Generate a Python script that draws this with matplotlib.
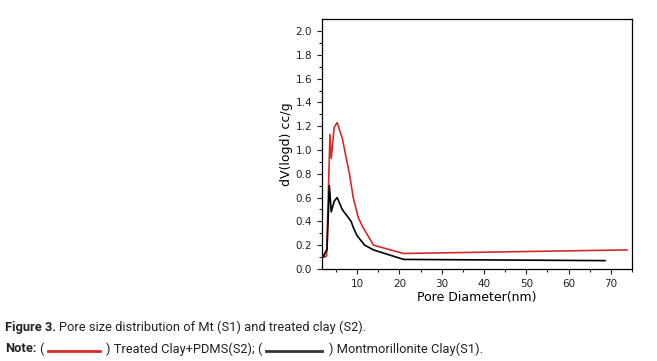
import matplotlib
matplotlib.use("Agg")
import matplotlib.pyplot as plt
from matplotlib.lines import Line2D

red_x = [2.0, 2.4, 2.8, 3.6, 3.9, 4.6, 5.3, 6.5, 8.2, 9.1, 10.3, 11.4, 13.9, 20.9, 73.8]
red_y = [0.12, 0.10, 0.11, 1.13, 0.93, 1.19, 1.23, 1.10, 0.80, 0.60, 0.43, 0.35, 0.20, 0.13, 0.16]
blk_x = [2.0, 2.5, 2.9, 3.45, 3.9, 4.6, 5.3, 6.5, 8.6, 9.1, 10.0, 11.8, 13.9, 21.0, 68.6]
blk_y = [0.10, 0.14, 0.16, 0.70, 0.48, 0.57, 0.60, 0.50, 0.40, 0.35, 0.28, 0.20, 0.16, 0.08, 0.07]
x_ticks = [10, 20, 30, 40, 50, 60, 70]
y_ticks = [0.0, 0.2, 0.4, 0.6, 0.8, 1.0, 1.2, 1.4, 1.6, 1.8, 2.0]

RED = "#d42a2a"
TXT = "#222222"
W, H = 657, 361
fig = plt.figure(figsize=(6.57, 3.61), dpi=100)
ax = fig.add_axes([0.490, 0.255, 0.472, 0.692])
ax.plot(red_x, red_y, color=RED, lw=1.2)
ax.plot(blk_x, blk_y, color="black", lw=1.2)
ax.set_xlim(1.7, 75)
ax.set_ylim(0, 2.1)
ax.set_xticks(x_ticks)
ax.set_yticks(y_ticks)
ax.set_yticklabels([f"{v:.1f}" for v in y_ticks])
ax.set_xticks([5, 15, 25, 35, 45, 55, 65, 75], minor=True)
ax.set_yticks([0.1 + 0.2 * i for i in range(10)], minor=True)
ax.tick_params(which="both", direction="out", labelsize=7.5, width=0.8, colors="#222222")
ax.tick_params(which="major", length=3.5)
ax.tick_params(which="minor", length=2)
for s in ax.spines.values():
    s.set_linewidth(0.9)
ax.set_xlabel("Pore Diameter(nm)", fontsize=9, labelpad=2)
ax.set_ylabel("dV(logd) cc/g", fontsize=9, labelpad=2)

renderer = fig.canvas.get_renderer()
FS = 9.3
FAM = "Roboto"


def put(x_px, y_px, s, bold=False):
    t = fig.text(x_px / W, 1 - y_px / H, s, fontsize=FS, family=FAM,
                 fontweight="bold" if bold else "normal", va="center", color=TXT)
    bb = t.get_window_extent(renderer)
    return bb.x1


def seg(x0, x1, y_px, color):
    fig.add_artist(Line2D([x0 / W, x1 / W], [1 - y_px / H] * 2, color=color, lw=2,
                          transform=fig.transFigure))


x = put(5, 327, "Figure 3.", bold=True)
put(x + 3, 327, "Pore size distribution of Mt (S1) and treated clay (S2).")

x = put(5, 349, "Note:", bold=True)
x = put(x + 3, 349, "(")
seg(x + 4, x + 56, 350.5, RED)
x = put(x + 62, 349, ") Treated Clay+PDMS(S2); (")
seg(x + 4, x + 60, 350.5, "#333333")
put(x + 67, 349, ") Montmorillonite Clay(S1).")

fig.savefig("out.png", dpi=100)
